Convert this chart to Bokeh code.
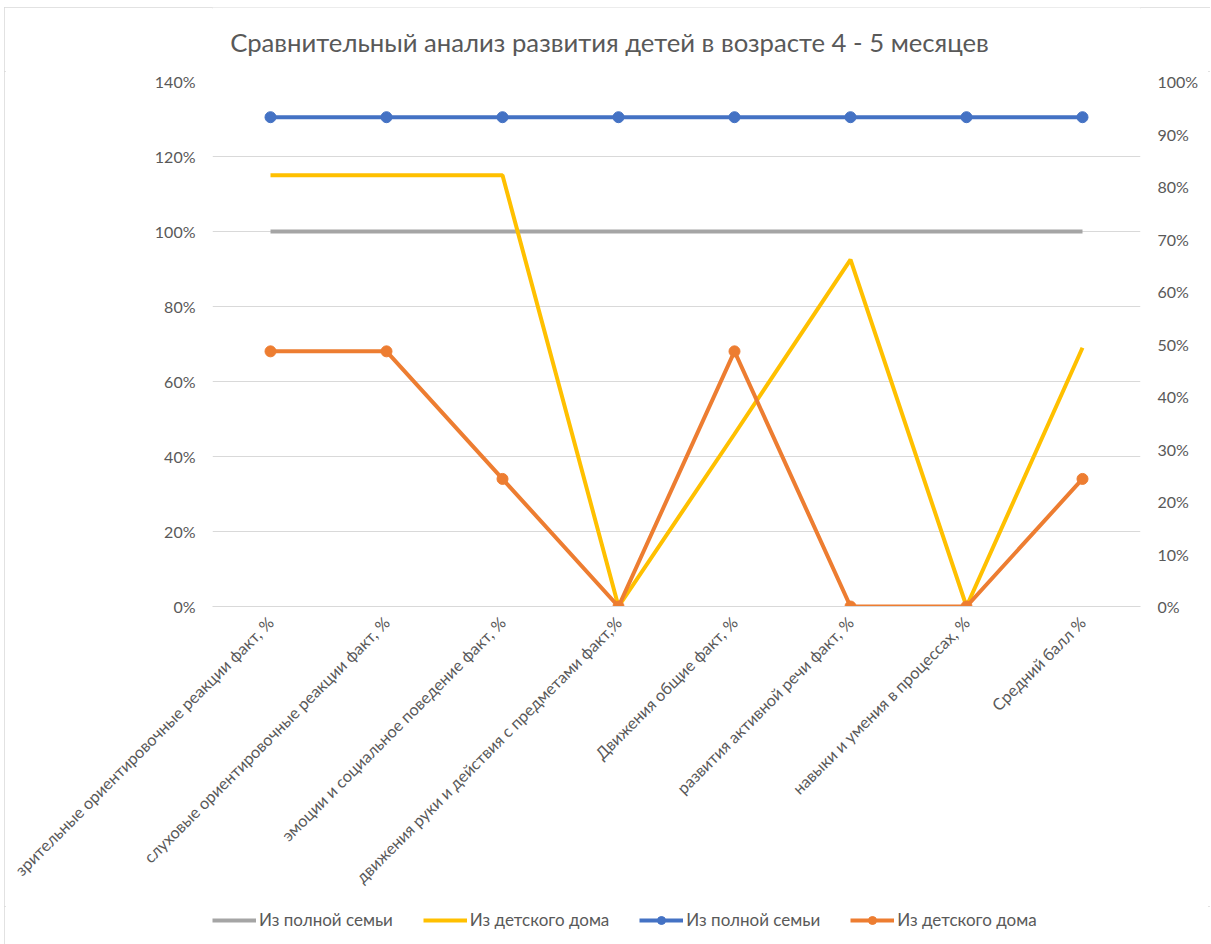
import math
from bokeh.plotting import figure
from bokeh.layouts import column
from bokeh.models import (Range1d, LinearAxis, FixedTicker, NumeralTickFormatter,
                          Legend, LegendItem, FactorRange, Label)
from bokeh.embed import file_html
from bokeh.resources import INLINE

categories = [
    "зрительные ориентировочные реакции факт, %",
    "слуховые ориентировочные реакции факт, %",
    "эмоции и социальное поведение факт, %",
    "движения руки и действия с предметами факт,%",
    "Движения общие факт, %",
    "развития активной речи факт, %",
    "навыки и умения в процессах, %",
    "Средний балл %",
]
# primary (left) axis series
full_family_left = [1.0, 1.0, 1.0, 1.0, 1.0, 1.0, 1.0, 1.0]
orphanage_left = [1.15, 1.15, 1.15, 0.0, 0.46, 0.925, 0.0, 0.69]
# secondary (right) axis series
full_family_right = [0.932, 0.932, 0.932, 0.932, 0.932, 0.932, 0.932, 0.932]
orphanage_right = [0.486, 0.486, 0.243, 0.0, 0.486, 0.0, 0.0, 0.243]

left_ticks = [0.0, 0.2, 0.4, 0.6, 0.8, 1.0, 1.2, 1.4]
right_ticks = [0.0, 0.1, 0.2, 0.3, 0.4, 0.5, 0.6, 0.7, 0.8, 0.9, 1.0]

title_text = "Сравнительный анализ развития детей в возрасте 4 - 5 месяцев"
legend_labels = ["Из полной семьи", "Из детского дома", "Из полной семьи", "Из детского дома"]

FONT = "Lato"
TXT = "#595959"
GRAY, YELLOW, BLUE, ORANGE = "#A5A5A5", "#FFC000", "#4472C4", "#ED7D31"

# ---- title strip (its frame is aligned with the chart frame by the column layout)
tf = figure(width=1206, height=64, output_backend="svg", toolbar_location=None,
            x_axis_type=None, y_axis_type=None, x_range=Range1d(0, 1), y_range=Range1d(0, 1),
            min_border_left=0, min_border_right=0, min_border_top=0, min_border_bottom=0)
tf.outline_line_color = None
tf.grid.grid_line_color = None
tf.background_fill_color = "white"
tf.border_fill_color = "white"
tf.add_layout(Label(x=397, y=30, x_units="screen", y_units="screen", text=title_text,
                    text_align="center", text_baseline="middle", text_font=FONT,
                    text_font_size="25.7px", text_color=TXT))

# ---- main chart
p = figure(frame_width=928, frame_height=525, x_range=FactorRange(*categories),
           y_range=Range1d(0, 1.4), output_backend="svg", toolbar_location=None,
           min_border_left=208, min_border_right=70, min_border_top=10,
           min_border_bottom=300)
p.outline_line_color = None
p.background_fill_color = "white"
p.border_fill_color = "white"

p.extra_y_ranges = {"right": Range1d(0, 1.0)}
p.add_layout(LinearAxis(y_range_name="right"), "right")

p.yaxis[0].ticker = FixedTicker(ticks=left_ticks)
p.yaxis[1].ticker = FixedTicker(ticks=right_ticks)
for ax in p.yaxis:
    ax.formatter = NumeralTickFormatter(format="0%")
    ax.axis_line_color = None
    ax.major_tick_line_color = None
    ax.minor_tick_line_color = None
    ax.major_label_text_font = FONT
    ax.major_label_text_font_size = "16px"
    ax.major_label_text_color = TXT
    ax.major_label_standoff = 11

xa = p.xaxis[0]
xa.major_label_orientation = math.pi / 4
xa.axis_line_color = "#D9D9D9"
xa.major_tick_line_color = None
xa.major_label_text_font = FONT
xa.major_label_text_font_size = "16.3px"
xa.major_label_text_color = TXT
xa.major_label_standoff = 7

p.xgrid.grid_line_color = None
p.ygrid.grid_line_color = "#D9D9D9"
p.ygrid.grid_line_width = 1
p.ygrid.ticker = FixedTicker(ticks=left_ticks)

p.line(categories, full_family_left, line_color=GRAY, line_width=4)
p.line(categories, orphanage_left, line_color=YELLOW, line_width=4)
p.line(categories, full_family_right, line_color=BLUE, line_width=4, y_range_name="right")
p.scatter(categories, full_family_right, size=11, fill_color=BLUE, line_color=BLUE, y_range_name="right")
p.line(categories, orphanage_right, line_color=ORANGE, line_width=4, y_range_name="right")
p.scatter(categories, orphanage_right, size=11, fill_color=ORANGE, line_color=ORANGE, y_range_name="right")

# ---- legend strip (series re-plotted outside its visible range, only the swatches show)
lf = figure(width=1206, height=45, output_backend="svg", toolbar_location=None,
            x_axis_type=None, y_axis_type=None, x_range=FactorRange(*categories),
            y_range=Range1d(10, 11),
            min_border_left=195, min_border_right=0, min_border_top=3, min_border_bottom=0)
lf.outline_line_color = None
lf.grid.grid_line_color = None
lf.background_fill_color = "white"
lf.border_fill_color = "white"
k1 = lf.line(categories, full_family_left, line_color=GRAY, line_width=4)
k2 = lf.line(categories, orphanage_left, line_color=YELLOW, line_width=4)
k3 = lf.line(categories, full_family_right, line_color=BLUE, line_width=4)
k3m = lf.scatter(categories, full_family_right, size=11, fill_color=BLUE, line_color=BLUE)
k4 = lf.line(categories, orphanage_right, line_color=ORANGE, line_width=4)
k4m = lf.scatter(categories, orphanage_right, size=11, fill_color=ORANGE, line_color=ORANGE)

legend = Legend(items=[
    LegendItem(label=legend_labels[0], renderers=[k1]),
    LegendItem(label=legend_labels[1], renderers=[k2]),
    LegendItem(label=legend_labels[2], renderers=[k3, k3m]),
    LegendItem(label=legend_labels[3], renderers=[k4, k4m]),
], orientation="horizontal", location="top_left")
legend.border_line_color = None
legend.background_fill_alpha = 0
legend.padding = 0
legend.margin = 0
legend.spacing = 30
legend.glyph_width = 44
legend.glyph_height = 20
legend.label_standoff = 3
legend.label_text_font = FONT
legend.label_text_font_size = "17px"
legend.label_text_color = TXT
lf.add_layout(legend, "center")

layout = column(tf, p, lf, spacing=0)
layout.margin = (7, 0, 0, 4)
layout.styles = {"outline": "2px solid #d9d9d9", "outline-offset": "-2px"}

open("out.html", "w").write(file_html(layout, INLINE))
